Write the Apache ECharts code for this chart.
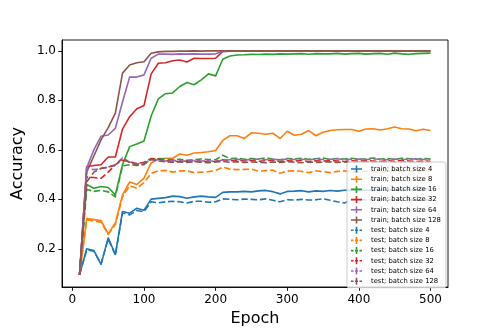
<!DOCTYPE html>
<html><head><meta charset="utf-8">
<script src="https://cdn.jsdelivr.net/npm/echarts@6/dist/echarts.min.js"></script>
<style>html,body{margin:0;padding:0;background:#fff}#c{width:498px;height:332px}</style>
</head><body><div id="c"></div>
<script>
const epochs = [10,20,30,40,50,60,70,80,90,100,110,120,130,140,150,160,170,180,190,200,210,220,230,240,250,260,270,280,290,300,310,320,330,340,350,360,370,380,390,400,410,420,430,440,450,460,470,480,490,500];

const trainBS4 = [0.095,0.200,0.193,0.137,0.244,0.177,0.351,0.344,0.364,0.356,
 0.401,0.404,0.407,0.413,0.411,0.404,0.410,0.413,0.410,0.408,
 0.428,0.430,0.430,0.432,0.430,0.434,0.436,0.431,0.422,0.432,
 0.433,0.435,0.430,0.434,0.432,0.436,0.433,0.437,0.438,0.436,
 0.437,0.439,0.436,0.440,0.437,0.441,0.438,0.440,0.443,0.441];
const trainBS8 = [0.095,0.322,0.318,0.314,0.261,0.305,0.418,0.470,0.460,0.486,
 0.547,0.563,0.566,0.566,0.583,0.578,0.587,0.589,0.592,0.597,
 0.638,0.657,0.657,0.646,0.669,0.667,0.663,0.667,0.646,0.675,
 0.659,0.663,0.678,0.657,0.671,0.678,0.681,0.682,0.682,0.675,
 0.684,0.685,0.680,0.685,0.692,0.685,0.684,0.677,0.683,0.678];
const trainBS16 = [0.095,0.460,0.445,0.452,0.448,0.418,0.540,0.613,0.624,0.636,
 0.737,0.806,0.827,0.830,0.856,0.872,0.863,0.883,0.907,0.899,
 0.966,0.979,0.983,0.984,0.986,0.985,0.987,0.986,0.988,0.987,
 0.988,0.989,0.986,0.989,0.988,0.988,0.990,0.987,0.989,0.990,
 0.987,0.989,0.990,0.986,0.991,0.988,0.986,0.989,0.990,0.991];
const trainBS32 = [0.095,0.532,0.537,0.540,0.571,0.571,0.684,0.734,0.766,0.779,
 0.907,0.950,0.952,0.960,0.963,0.955,0.970,0.969,0.969,0.970,
 0.998,0.999,0.999,0.999,1.000,0.999,1.000,0.999,1.000,1.000,
 0.999,1.000,1.000,0.999,1.000,1.000,0.999,1.000,1.000,1.000,
 0.999,1.000,1.000,1.000,0.999,1.000,1.000,1.000,1.000,1.000];
const trainBS64 = [0.095,0.527,0.600,0.655,0.660,0.687,0.793,0.894,0.894,0.903,
 0.970,0.987,0.987,0.986,0.988,0.987,0.988,0.987,0.987,0.988,
 0.998,0.999,0.999,1.000,0.999,1.000,1.000,0.999,1.000,1.000,
 1.000,0.999,1.000,1.000,1.000,0.999,1.000,1.000,1.000,1.000,
 1.000,0.999,1.000,1.000,1.000,1.000,0.999,1.000,1.000,1.000];
const trainBS128 = [0.095,0.510,0.575,0.640,0.690,0.748,0.910,0.943,0.952,0.956,
 0.990,0.996,0.998,0.998,0.999,0.999,1.000,0.999,1.000,1.000,
 1.000,1.000,1.000,1.000,1.000,1.000,1.000,1.000,1.000,1.000,
 1.000,1.000,1.000,1.000,1.000,1.000,1.000,1.000,1.000,1.000,
 1.000,1.000,1.000,1.000,1.000,1.000,1.000,1.000,1.000,1.000];

const testBS4 = [0.095,0.196,0.190,0.140,0.240,0.175,0.345,0.337,0.355,0.350,
 0.390,0.386,0.390,0.392,0.390,0.385,0.392,0.392,0.388,0.390,
 0.402,0.400,0.398,0.401,0.400,0.398,0.402,0.396,0.390,0.398,
 0.397,0.400,0.397,0.398,0.402,0.396,0.390,0.385,0.398,0.400,
 0.397,0.399,0.400,0.398,0.397,0.400,0.398,0.396,0.399,0.397];
const testBS8 = [0.095,0.318,0.312,0.308,0.258,0.298,0.410,0.455,0.445,0.468,
 0.505,0.515,0.517,0.510,0.515,0.515,0.508,0.510,0.512,0.516,
 0.530,0.522,0.520,0.521,0.522,0.514,0.516,0.518,0.505,0.514,
 0.515,0.513,0.508,0.515,0.512,0.508,0.513,0.515,0.512,0.510,
 0.514,0.512,0.510,0.513,0.516,0.512,0.514,0.513,0.515,0.515];
const testBS16 = [0.095,0.440,0.432,0.436,0.430,0.410,0.535,0.540,0.537,0.540,
 0.562,0.565,0.563,0.560,0.562,0.558,0.560,0.563,0.561,0.560,
 0.578,0.565,0.566,0.562,0.565,0.563,0.568,0.562,0.560,0.565,
 0.563,0.566,0.562,0.564,0.567,0.561,0.565,0.563,0.566,0.562,
 0.564,0.567,0.563,0.565,0.562,0.566,0.564,0.562,0.565,0.563];
const testBS32 = [0.095,0.490,0.488,0.485,0.510,0.540,0.558,0.552,0.545,0.550,
 0.565,0.563,0.556,0.555,0.552,0.555,0.553,0.556,0.552,0.554,
 0.560,0.556,0.558,0.555,0.557,0.554,0.556,0.558,0.553,0.556,
 0.555,0.557,0.553,0.556,0.554,0.557,0.555,0.553,0.556,0.554,
 0.556,0.555,0.553,0.556,0.554,0.557,0.555,0.553,0.555,0.554];
const testBS64 = [0.095,0.525,0.520,0.525,0.530,0.540,0.568,0.550,0.543,0.547,
 0.560,0.557,0.555,0.557,0.556,0.554,0.557,0.555,0.556,0.553,
 0.558,0.560,0.562,0.559,0.561,0.563,0.560,0.562,0.559,0.563,
 0.561,0.562,0.560,0.563,0.561,0.562,0.564,0.560,0.562,0.563,
 0.561,0.563,0.562,0.560,0.563,0.561,0.562,0.564,0.561,0.562];
const testBS128 = [0.095,0.470,0.510,0.525,0.530,0.538,0.565,0.548,0.540,0.543,
 0.562,0.555,0.552,0.550,0.551,0.549,0.552,0.550,0.548,0.551,
 0.553,0.550,0.552,0.549,0.551,0.550,0.548,0.551,0.549,0.552,
 0.550,0.548,0.551,0.549,0.550,0.552,0.549,0.551,0.548,0.550,
 0.551,0.549,0.550,0.552,0.549,0.550,0.551,0.548,0.550,0.549];

const seriesNames = ['train; batch size 4','train; batch size 8','train; batch size 16','train; batch size 32','train; batch size 64','train; batch size 128',
 'test; batch size 4','test; batch size 8','test; batch size 16','test; batch size 32','test; batch size 64','test; batch size 128'];
const seriesValues = [trainBS4,trainBS8,trainBS16,trainBS32,trainBS64,trainBS128,testBS4,testBS8,testBS16,testBS32,testBS64,testBS128];
const colors = ['#1f77b4','#ff7f0e','#2ca02c','#d62728','#9467bd','#8c564b'];
const xTicks = [0,100,200,300,400,500];
const yTicks = [0.2,0.4,0.6,0.8,1.0];
const xLabel = 'Epoch';
const yLabel = 'Accuracy';

const FONT = 'DejaVu Sans';
const trainIcon = 'path://M0,5.4H22V8.6H0Z M9.4,0H12.6V14H9.4Z';
const testIcon = 'path://M0,5.4H5V8.6H0Z M8,5.4H14V8.6H8Z M17,5.4H22V8.6H17Z M9.4,0H12.6V14H9.4Z';

const chart = echarts.init(document.getElementById('c'), null, {renderer:'canvas'});
const series = seriesValues.map((vals, i) => {
  const col = colors[i % 6];
  const dashed = i >= 6;
  return {
    name: seriesNames[i], type: 'line',
    data: epochs.map((e, k) => [e, vals[k]]),
    showSymbol: false, symbol: 'none',
    itemStyle: {color: col},
    lineStyle: {color: col, width: 1.6, type: dashed ? [6.5, 2.8] : 'solid', cap: 'butt', join: 'round'},
    emphasis: {disabled: true}, silent: true
  };
});

chart.setOption({
  animation: false,
  backgroundColor: '#fff',
  grid: {left: 62, right: 50, top: 40, bottom: 42, show: true, borderColor: '#000', borderWidth: 0.9, backgroundColor: '#fff'},
  xAxis: {
    type: 'value', min: -14.5, max: 524.5,
    axisLine: {show: true, onZero: false, lineStyle: {color: '#000', width: 0.9}},
    axisTick: {show: true, customValues: xTicks, length: 3.8, lineStyle: {color: '#000', width: 0.9}},
    axisLabel: {customValues: xTicks, fontSize: 12, color: '#000', margin: 7, fontFamily: FONT},
    splitLine: {show: false},
    name: xLabel, nameLocation: 'middle', nameGap: 24,
    nameTextStyle: {fontSize: 16, color: '#000', fontFamily: FONT}
  },
  yAxis: {
    type: 'value', min: 0.0457, max: 1.0439,
    axisLine: {show: true, onZero: false, lineStyle: {color: '#000', width: 0.9}},
    axisTick: {show: true, customValues: yTicks, length: 3.8, lineStyle: {color: '#000', width: 0.9}},
    axisLabel: {customValues: yTicks, fontSize: 12, color: '#000', margin: 6, fontFamily: FONT, formatter: v => v.toFixed(1)},
    splitLine: {show: false},
    name: yLabel, nameLocation: 'middle', nameGap: 36,
    nameTextStyle: {fontSize: 16, color: '#000', fontFamily: FONT}
  },
  legend: {
    orient: 'vertical', left: 347, top: 162,
    itemWidth: 11, itemHeight: 7, itemGap: 3.2,
    padding: [3.5, 5, 3, 4],
    backgroundColor: 'rgba(255,255,255,0.8)',
    borderColor: '#cccccc', borderWidth: 1, borderRadius: 2,
    textStyle: {fontFamily: FONT, fontSize: 6.8, lineHeight: 7, color: '#000', padding: [0,0,0,4]},
    itemStyle: {borderWidth: 0},
    selectedMode: false,
    data: seriesNames.map((n, i) => ({name: n, icon: i < 6 ? trainIcon : testIcon}))
  },
  series: series
});
</script>
</body></html>
